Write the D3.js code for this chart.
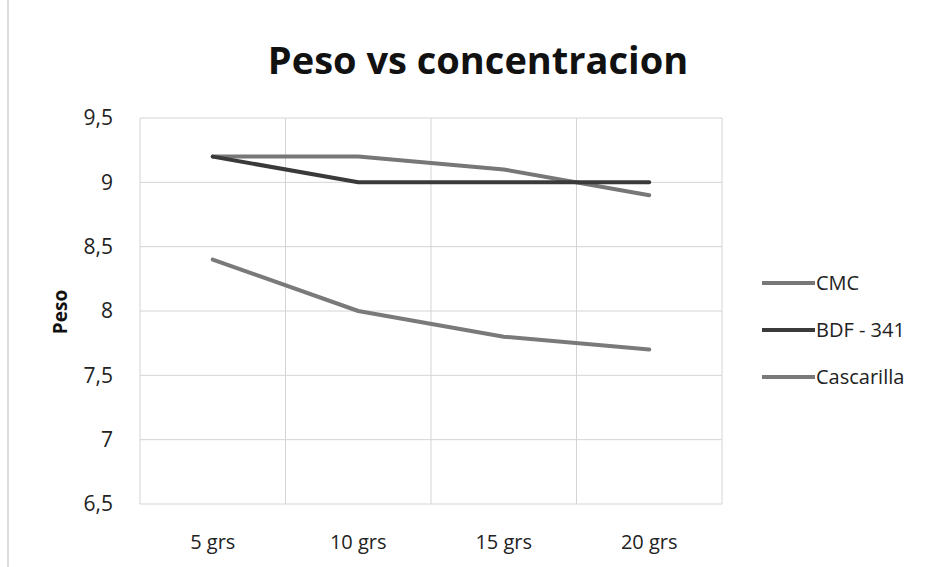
<!DOCTYPE html>
<html><head><meta charset="utf-8">
<script src="https://cdn.jsdelivr.net/npm/d3@7"></script>
<style>body{margin:0;background:#fff}svg{display:block}</style>
</head><body>
<svg id="c" width="936" height="567"></svg>
<script>
const categories = ["5 grs", "10 grs", "15 grs", "20 grs"];
const seriesNames = ["CMC", "BDF - 341", "Cascarilla"];
const cmc = [9.2, 9.2, 9.1, 8.9];
const bdf = [9.2, 9.0, 9.0, 9.0];
const cascarilla = [8.4, 8.0, 7.8, 7.7];
const yTicks = [6.5, 7, 7.5, 8, 8.5, 9, 9.5];
const colors = ["#777777", "#3a3a3a", "#7a7a7a"];
const seriesData = [cmc, bdf, cascarilla];

const svg = d3.select("#c");
const L = 140, R = 722, T = 118, B = 504;
const x = d3.scaleBand().domain(categories).range([L, R]);
const y = d3.scaleLinear().domain([6.5, 9.5]).range([B, T]);
const font = "'Open Sans', 'Liberation Sans', sans-serif";

svg.append("line").attr("x1", 8).attr("x2", 8).attr("y1", 0).attr("y2", 567)
  .attr("stroke", "#d0d0d0").attr("stroke-width", 1.5);

svg.append("g").selectAll("line").data(yTicks).join("line")
  .attr("x1", L).attr("x2", R).attr("y1", d => y(d)).attr("y2", d => y(d))
  .attr("stroke", "#d4d4d4").attr("stroke-width", 1);
const bounds = categories.map(c => x(c)).concat([R]);
svg.append("g").selectAll("line").data(bounds).join("line")
  .attr("x1", d => d).attr("x2", d => d).attr("y1", T).attr("y2", B)
  .attr("stroke", "#d4d4d4").attr("stroke-width", 1);

const yAxis = d3.axisLeft(y).tickValues(yTicks).tickSize(0).tickPadding(0)
  .tickFormat(d => d3.format("")(d).replace(".", ","));
const ya = svg.append("g").attr("transform", `translate(113,0)`).call(yAxis);
ya.select(".domain").remove();
ya.selectAll("text").attr("font-family", font).attr("font-size", 21).attr("fill", "#222");

const xAxis = d3.axisBottom(x).tickSize(0).tickPadding(0);
const xa = svg.append("g").attr("transform", `translate(0,535)`).call(xAxis);
xa.select(".domain").remove();
xa.selectAll("text").attr("font-family", font).attr("font-size", 20).attr("fill", "#222");

const line = d3.line().x((d, i) => x(categories[i]) + x.bandwidth() / 2).y(d => y(d));
svg.append("g").selectAll("path").data(seriesData).join("path")
  .attr("d", line).attr("fill", "none")
  .attr("stroke", (d, i) => colors[i]).attr("stroke-width", 4)
  .attr("stroke-linejoin", "round").attr("stroke-linecap", "round");

svg.append("text").attr("x", 478).attr("y", 74).attr("text-anchor", "middle")
  .attr("font-family", font).attr("font-weight", "bold").attr("font-size", 38)
  .attr("fill", "#111").text("Peso vs concentracion");

svg.append("text").attr("transform", "translate(67,312) rotate(-90)")
  .attr("text-anchor", "middle").attr("font-family", font).attr("font-weight", "bold")
  .attr("font-size", 19).attr("fill", "#111").text("Peso");

const lg = svg.append("g").selectAll("g").data(seriesNames).join("g")
  .attr("transform", (d, i) => `translate(762,${283 + i * 47})`);
lg.append("line").attr("x1", 0).attr("x2", 53).attr("y1", 0).attr("y2", 0)
  .attr("stroke", (d, i) => colors[i]).attr("stroke-width", 4);
lg.append("text").attr("x", 54).attr("y", 7).attr("font-family", font)
  .attr("font-size", 20).attr("fill", "#222").text(d => d);
</script>
</body></html>
